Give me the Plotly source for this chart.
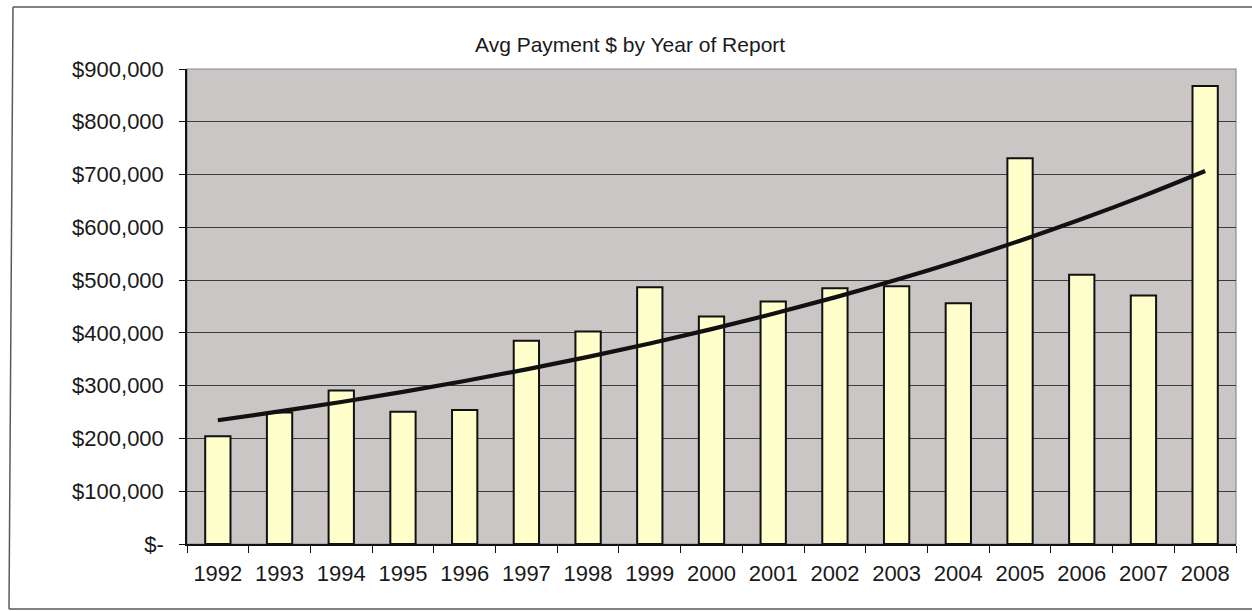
import numpy as np
import plotly.graph_objects as go

# Average payment per report year
years = ["1992", "1993", "1994", "1995", "1996", "1997", "1998", "1999", "2000",
         "2001", "2002", "2003", "2004", "2005", "2006", "2007", "2008"]
avg_payment = [204000, 249000, 291000, 250500, 254000, 385000, 402600, 486600, 431000,
               459500, 484700, 488400, 456000, 731000, 510000, 471000, 868000]

y_tick_values = [0, 100000, 200000, 300000, 400000, 500000, 600000, 700000, 800000, 900000]
y_tick_labels = ["$-", "$100,000", "$200,000", "$300,000", "$400,000", "$500,000",
                 "$600,000", "$700,000", "$800,000", "$900,000"]

chart_title = "Avg Payment $ by Year of Report"

# Exponential trendline: least-squares fit of ln(y) against period index
idx = np.arange(1, len(avg_payment) + 1)
slope, intercept = np.polyfit(idx, np.log(avg_payment), 1)
trend = np.exp(intercept + slope * idx)

W, H = 1252, 611
ML, MR, MT, MB = 187, 16, 69, 67
plot_w = W - ML - MR
plot_h = H - MT - MB


def px_x(px):
    return (px - ML) / plot_w


def px_y(py):
    return (H - MB - py) / plot_h


FONT = "Liberation Sans, Arial, sans-serif"

fig = go.Figure()
fig.add_trace(go.Bar(
    x=years, y=avg_payment,
    marker=dict(color="#ffffcc", line=dict(color="#111111", width=2)),
    showlegend=False, hoverinfo="x+y",
))
fig.add_trace(go.Scatter(
    x=years, y=trend, mode="lines",
    line=dict(color="#111111", width=4.2, shape="spline"),
    showlegend=False, hoverinfo="skip",
))

# chart frame (top, left and bottom edges) and plot-area border
frame = dict(color="#5a5a5a", width=1.5)
fig.add_shape(type="line", xref="paper", yref="paper",
              x0=px_x(13), x1=px_x(1252), y0=px_y(7), y1=px_y(7), line=frame, layer="below")
fig.add_shape(type="line", xref="paper", yref="paper",
              x0=px_x(13), x1=px_x(9), y0=px_y(7), y1=px_y(609), line=frame, layer="below")
fig.add_shape(type="line", xref="paper", yref="paper",
              x0=px_x(9), x1=px_x(1252), y0=px_y(609), y1=px_y(609), line=frame, layer="below")
fig.add_shape(type="rect", xref="paper", yref="paper",
              x0=0, x1=1, y0=0, y1=1,
              line=dict(color="#8a8a8a", width=1.2), fillcolor="rgba(0,0,0,0)",
              layer="below")

fig.add_annotation(text=chart_title, xref="paper", yref="paper",
                   x=px_x(630), y=px_y(45), xanchor="center", yanchor="middle",
                   showarrow=False, font=dict(family=FONT, size=21, color="#1a1a1a"))

fig.update_layout(
    width=W, height=H,
    margin=dict(l=ML, r=MR, t=MT, b=MB, pad=0),
    paper_bgcolor="#ffffff",
    plot_bgcolor="#cac6c5",
    bargap=0.59,
    font=dict(family=FONT, size=22, color="#1a1a1a"),
    xaxis=dict(
        type="category", tickson="boundaries",
        ticks="outside", ticklen=7, tickwidth=1.2, tickcolor="#111111",
        showline=True, linecolor="#111111", linewidth=1.5,
        showgrid=False, ticklabelstandoff=9,
        tickfont=dict(size=22),
    ),
    yaxis=dict(
        range=[0, 900000], tickvals=y_tick_values, ticktext=y_tick_labels,
        ticks="outside", ticklen=6, tickwidth=1.2, tickcolor="#111111",
        showline=True, linecolor="#111111", linewidth=1.5,
        showgrid=True, gridcolor="#3c3c3c", gridwidth=1,
        zeroline=False, ticklabelstandoff=11,
        tickfont=dict(size=22),
    ),
)

# keep the page from growing scrollbars around the fixed-size figure
page_css = ("document.documentElement.style.overflow='hidden';"
            "document.body.style.overflow='hidden';"
            "document.body.style.margin='0';")

fig.write_html("out.html", post_script=page_css, config={"displayModeBar": False})
